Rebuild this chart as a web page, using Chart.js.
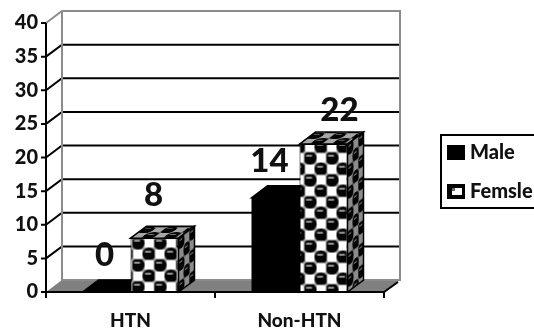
<!DOCTYPE html>
<html lang="en">
<head>
  <meta charset="UTF-8">
  <title>HTN by sex</title>
  <script src="https://cdn.jsdelivr.net/npm/chart.js"></script>
  <style>
    html, body { margin: 0; background: #fff; overflow: hidden; }
    #wrap { position: relative; width: 534px; height: 329px; }
  </style>
</head>
<body>
  <div id="wrap"><canvas id="barChart" width="534" height="329"></canvas></div>

  <script>
    const categories = ['HTN', 'Non-HTN'];
    const maleValues = [0, 14];
    const femaleValues = [8, 22];
    const seriesNames = ['Male', 'Femsle'];
    const yTicks = [0, 5, 10, 15, 20, 25, 30, 35, 40];

    // Offset of the back wall from the front plane
    const DEPTH_X = 16;
    const DEPTH_Y = 12;
    const FONT = 'Lato, Carlito, sans-serif';
    const WALL = '#8c8c8c';

    // Ball-and-check tile used for the second series
    function makeTile() {
      const c = document.createElement('canvas');
      c.width = 22;
      c.height = 22;
      const g = c.getContext('2d');
      g.fillStyle = '#fff';
      g.fillRect(0, 0, 22, 22);
      g.fillStyle = '#a8a8a8';
      g.fillRect(0, 10, 22, 2);
      g.fillRect(0, 21, 22, 1);
      g.fillRect(0, 0, 22, 1);
      g.fillRect(10, 0, 2, 22);
      g.fillRect(21, 0, 1, 22);
      g.fillRect(0, 0, 1, 22);
      [[5.5, 5.5], [16.5, 16.5]].forEach(([x, y]) => {
        g.fillStyle = '#050505';
        g.beginPath();
        g.arc(x, y, 6.6, 0, Math.PI * 2);
        g.fill();
        g.fillStyle = '#c8c8c8';
        g.fillRect(x - 4, y - 3, 6, 1.5);
      });
      return c;
    }

    const ctx = document.getElementById('barChart').getContext('2d');
    const tile = makeTile();

    function ballPattern(m) {
      const p = ctx.createPattern(tile, 'repeat');
      p.setTransform(new DOMMatrix(m));
      return p;
    }

    function polygon(c, pts) {
      c.beginPath();
      pts.forEach(([x, y], i) => (i ? c.lineTo(x, y) : c.moveTo(x, y)));
      c.closePath();
    }

    // Wall, floor and gridlines behind the bars
    const room = {
      id: 'room',
      beforeDatasetsDraw(chart) {
        const c = chart.ctx;
        const { left, right } = chart.chartArea;
        const y = chart.scales.y;
        const base = y.getPixelForValue(0);
        const top = y.getPixelForValue(40);

        c.save();
        c.fillStyle = '#808080';
        polygon(c, [[left, base], [left + DEPTH_X, base - DEPTH_Y], [right + DEPTH_X, base - DEPTH_Y], [right, base]]);
        c.fill();

        c.strokeStyle = '#000';
        c.lineWidth = 2;
        yTicks.forEach(v => {
          if (v === 0 || v === 40) return;
          const py = y.getPixelForValue(v);
          c.beginPath();
          c.moveTo(left, py);
          c.lineTo(left + DEPTH_X, py - DEPTH_Y);
          c.lineTo(right + DEPTH_X, py - DEPTH_Y);
          c.stroke();
        });

        c.strokeStyle = WALL;
        c.lineWidth = 2;
        c.beginPath();
        c.moveTo(left, top);
        c.lineTo(left + DEPTH_X, top - DEPTH_Y);
        c.lineTo(right + DEPTH_X, top - DEPTH_Y);
        c.lineTo(right + DEPTH_X, base - DEPTH_Y);
        c.lineTo(left + DEPTH_X, base - DEPTH_Y);
        c.lineTo(left + DEPTH_X, top - DEPTH_Y);
        c.stroke();

        // Top and side faces of each bar; the library paints the fronts over them
        chart.data.datasets.forEach((ds, i) => {
          chart.getDatasetMeta(i).data.forEach(bar => {
            const x0 = bar.x - bar.width / 2;
            const x1 = bar.x + bar.width / 2;
            const topFace = [[x0, bar.y], [x0 + DEPTH_X, bar.y - DEPTH_Y], [x1 + DEPTH_X, bar.y - DEPTH_Y], [x1, bar.y]];
            const sideFace = [[x1, bar.y], [x1 + DEPTH_X, bar.y - DEPTH_Y], [x1 + DEPTH_X, base - DEPTH_Y], [x1, base]];
            const solid = i === 0;
            const faces = [
              [topFace, solid ? '#000' : ballPattern([1, 0, -0.667, 0.5, x0, bar.y]), 'rgba(0,0,0,0.35)'],
              [sideFace, solid ? '#000' : ballPattern([0.5, -0.375, 0, 1, x1, bar.y]), 'rgba(0,0,0,0.45)']
            ];
            faces.forEach(([face, fill, shade]) => {
              polygon(c, face);
              c.fillStyle = fill;
              c.fill();
              c.fillStyle = shade;
              c.fill();
              c.strokeStyle = '#000';
              c.lineWidth = 1.5;
              c.stroke();
            });
          });
        });
        c.restore();
      }
    };

    // Front axes, value labels and the boxed key
    const overlay = {
      id: 'overlay',
      afterDraw(chart) {
        const c = chart.ctx;
        const { left, right } = chart.chartArea;
        const y = chart.scales.y;
        const x = chart.scales.x;
        const base = y.getPixelForValue(0);
        const top = y.getPixelForValue(40);

        c.save();
        c.strokeStyle = '#000';
        c.lineWidth = 2;
        c.beginPath();
        c.moveTo(left, top);
        c.lineTo(left, base + 6);
        c.moveTo(left, base);
        c.lineTo(right, base);
        c.lineTo(right + DEPTH_X - 2, base - DEPTH_Y + 2);
        yTicks.forEach(v => {
          const py = y.getPixelForValue(v);
          c.moveTo(left - 5, py);
          c.lineTo(left, py);
        });
        [x.left + x.width / 2, right].forEach(px => {
          c.moveTo(px, base);
          c.lineTo(px, base + 6);
        });
        c.stroke();

        c.fillStyle = '#111';
        c.font = '900 33px ' + FONT;
        c.textAlign = 'center';
        c.textBaseline = 'middle';
        const nudges = [[[-2, -37], [-6, -36]], [[-1, -43], [16, -34]]];
        chart.data.datasets.forEach((ds, i) => {
          chart.getDatasetMeta(i).data.forEach((bar, j) => {
            c.fillText(ds.data[j], bar.x + nudges[i][j][0], bar.y + nudges[i][j][1]);
          });
        });

        // Key: frame runs off the right edge of the page
        c.strokeStyle = '#000';
        c.lineWidth = 2;
        c.strokeRect(441, 135, 110, 73);
        c.font = '900 20px ' + FONT;
        c.textAlign = 'left';
        chart.data.datasets.forEach((ds, i) => {
          const cy = 153 + i * 39;
          c.fillStyle = '#000';
          c.fillRect(447, cy - 8, 18, 15);
          if (i === 1) {
            c.fillStyle = '#fff';
            c.fillRect(452, cy - 4, 10, 7);
            c.fillStyle = '#666';
            c.fillRect(452, cy - 4, 3, 3);
          }
          c.fillStyle = '#111';
          c.fillText(ds.label, 470, cy);
        });
        c.restore();
      }
    };

    const femaleFronts = [
      ballPattern([1, 0, 0, 1, 132.5, 237.5]),
      ballPattern([1, 0, 0, 1, 304.5, 152.5])
    ];

    const chart = new Chart(ctx, {
      type: 'bar',
      data: {
        labels: categories,
        datasets: [
          { label: seriesNames[0], data: maleValues, backgroundColor: '#000', borderWidth: 0 },
          { label: seriesNames[1], data: femaleValues, backgroundColor: femaleFronts, borderColor: '#000', borderWidth: 1 }
        ]
      },
      options: {
        responsive: false,
        animation: false,
        layout: { padding: { left: 0, right: 150, top: 23, bottom: 0 } },
        categoryPercentage: 0.568,
        barPercentage: 1,
        plugins: { legend: { display: false }, tooltip: { enabled: false } },
        scales: {
          x: {
            afterFit(scale) { scale.height = 37; },
            grid: { display: false, drawTicks: false },
            border: { display: false },
            ticks: { color: '#111', padding: 17, font: { family: FONT, size: 19, weight: '900' } }
          },
          y: {
            min: 0,
            max: 40,
            afterFit(scale) { scale.width = 46; },
            afterBuildTicks(scale) { scale.ticks = yTicks.map(value => ({ value })); },
            grid: { display: false, drawTicks: false },
            border: { display: false },
            ticks: { color: '#111', padding: 8, font: { family: FONT, size: 20, weight: '900' } }
          }
        }
      },
      plugins: [room, overlay]
    });
  </script>
</body>
</html>
